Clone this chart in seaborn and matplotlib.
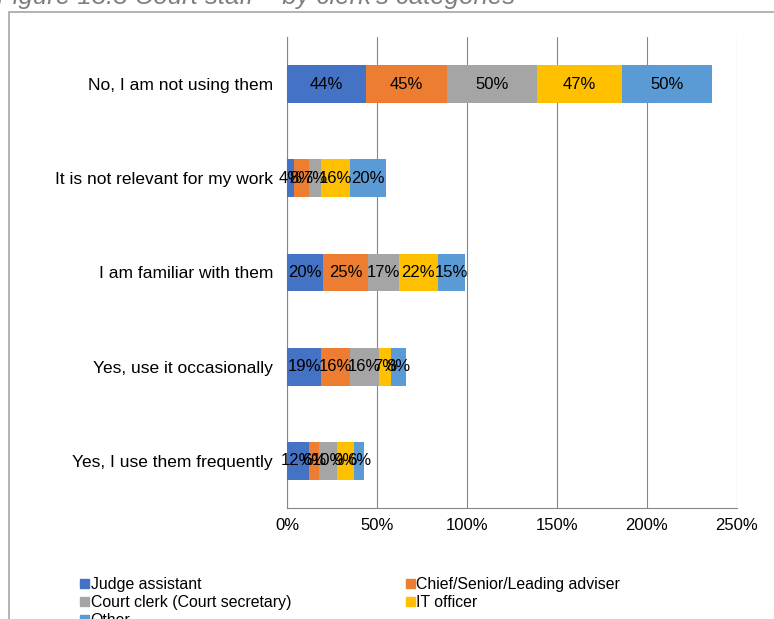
import matplotlib
matplotlib.use("Agg")
import matplotlib.pyplot as plt
import matplotlib.patches as mpatches
import numpy as np
import pandas as pd
import seaborn as sns

sns.set_theme(style="white")
plt.rcParams["font.family"] = ["Liberation Sans", "DejaVu Sans"]
plt.rcParams["text.color"] = "black"
plt.rcParams["xtick.color"] = "black"
plt.rcParams["ytick.color"] = "black"

# Survey answers (top to bottom) and share of each staff category
answers = [
    "No, I am not using them",
    "It is not relevant for my work",
    "I am familiar with them",
    "Yes, use it occasionally",
    "Yes, I use them frequently",
]
groups = [
    "Judge assistant",
    "Chief/Senior/Leading adviser",
    "Court clerk (Court secretary)",
    "IT officer",
    "Other",
]
judge_assistant = [44, 4, 20, 19, 12]
chief_adviser = [45, 8, 25, 16, 6]
court_clerk = [50, 7, 17, 16, 10]
it_officer = [47, 16, 22, 7, 9]
other = [50, 20, 15, 8, 6]
x_ticks = [0, 50, 100, 150, 200, 250]

colors = ["#4472C4", "#ED7D31", "#A5A5A5", "#FFC000", "#5B9BD5"]
series = [judge_assistant, chief_adviser, court_clerk, it_officer, other]

W, H = 774, 619
fig = plt.figure(figsize=(W / 100, H / 100), dpi=100)
ax = fig.add_axes([287 / W, 1 - 508 / H, (737 - 287) / W, (508 - 37) / H])

# Stacked bars: draw cumulative totals from the outermost layer inward
cum = np.cumsum(np.array(series), axis=0)
for i in range(len(series) - 1, -1, -1):
    df = pd.DataFrame({"answer": answers, "value": cum[i]})
    sns.barplot(data=df, x="value", y="answer", orient="h", color=colors[i],
                saturation=1, width=0.4, ax=ax, zorder=3, linewidth=0)

# Percentage labels at the middle of each segment
starts = np.vstack([np.zeros(len(answers)), cum[:-1]])
for i, vals in enumerate(series):
    for j, v in enumerate(vals):
        ax.text(starts[i][j] + v / 2, j, f"{v}%", ha="center", va="center",
                fontsize=12, color="black", zorder=5)

ax.set_xlim(0, 250)
ax.set_ylim(4.5, -0.5)
ax.set_xticks(x_ticks)
ax.set_xticklabels([f"{t}%" for t in x_ticks], fontsize=12)
ax.set_yticks(range(len(answers)))
ax.set_yticklabels(answers, fontsize=12.5)
ax.set_xlabel("")
ax.set_ylabel("")
ax.tick_params(axis="y", length=0, pad=10)
ax.tick_params(axis="x", length=0, pad=7)
ax.set_yticks(np.arange(-0.5, 5, 1), minor=True)
ax.tick_params(axis="y", which="minor", length=5, width=0.8, color="#868686", direction="out")

ax.grid(axis="x", color="#868686", linewidth=0.8, zorder=0)
ax.grid(axis="y", visible=False)
for side in ["top", "right"]:
    ax.spines[side].set_visible(False)
for side in ["left", "bottom"]:
    ax.spines[side].set_color("#868686")
    ax.spines[side].set_linewidth(0.8)

# Legend below the chart, filled row by row
order = [0, 2, 4, 1, 3]
handles = [mpatches.Patch(color=colors[k], label=groups[k]) for k in order]
fig.legend(handles=handles, loc="upper left", bbox_to_anchor=(72 / W, 1 - 569 / H),
           ncol=2, frameon=False, fontsize=11.4, handlelength=0.55, handleheight=0.55,
           handletextpad=0.12, columnspacing=7.25, labelspacing=0.2, borderpad=0)

# Chart frame and caption
fig.patches.append(mpatches.Rectangle((8.5 / W, -0.2), 2.0, 1.2 - 12.5 / H,
                                      transform=fig.transFigure, fill=False,
                                      edgecolor="#A6A6A6", linewidth=1.2))
fig.text(-3 / W, 1 - 4 / H, "Figure 13.3 Court staff \u2013 by clerk's categories",
         fontsize=18.5, style="italic", color="#7F7F7F", va="baseline", ha="left")

fig.savefig("out.png", dpi=100)
